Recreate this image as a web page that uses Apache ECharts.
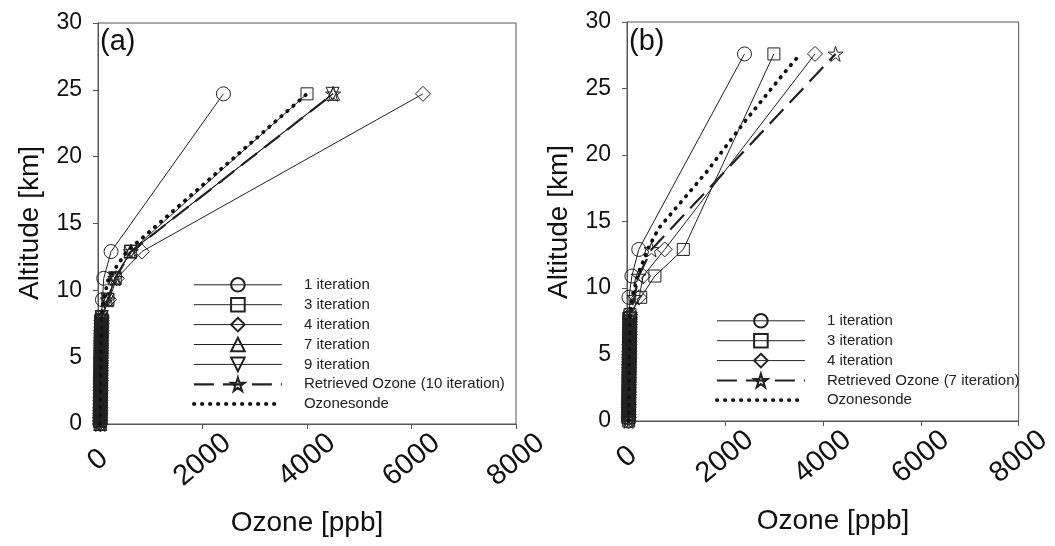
<!DOCTYPE html>
<html>
<head>
<meta charset="utf-8">
<script src="https://cdn.jsdelivr.net/npm/echarts@6/dist/echarts.min.js"></script>
<style>html,body{margin:0;padding:0;background:#fff;}#c{width:1055px;height:546px;}</style>
</head>
<body>
<div id="c"></div>
<script>
// ---------- Data ----------
// Lower-troposphere levels shared by the profiles [km]
const altLow = [0,0.25,0.5,0.75,1,1.25,1.5,1.75,2,2.25,2.5,2.75,3,3.25,3.5,3.75,4,4.25,4.5,4.75,5,5.25,5.5,5.75,6,6.25,6.5,6.75,7,7.25,7.5,7.75,8];

// Panel (a)
const altA = altLow.concat([9.3, 10.9, 12.9, 24.7]);
const iter1A = [38,39,39,40,41,41,42,43,44,44,45,46,47,47,48,49,50,51,51,52,53,54,55,55,56,57,58,59,60,61,62,63,64, 85,110,250,2400];
const iter3A = [42,42,43,44,44,45,46,46,47,48,49,49,50,51,52,52,53,54,55,56,57,57,58,59,60,61,62,63,64,65,66,68,70, 190,330,620,4000];
const iter4A = [44,44,45,46,46,47,48,48,49,50,51,51,52,53,54,55,56,56,57,58,59,60,61,62,63,64,65,66,67,68,70,71,73, 210,360,840,6220];
const iter7A = [43,43,44,45,45,46,47,47,48,49,50,50,51,52,53,54,55,55,56,57,58,59,60,61,62,63,64,65,66,67,68,69,71, 180,320,620,4500];
const iter9A = [43,44,44,45,46,46,47,48,48,49,50,51,51,52,53,54,55,56,56,57,58,59,60,61,62,63,64,65,66,67,68,70,71, 185,325,630,4490];
const retA   = [43,44,45,45,46,47,47,48,49,50,50,51,52,53,54,54,55,56,57,58,59,60,61,61,62,63,64,65,66,67,69,70,72, 185,330,630,4500];
const sondeAltA = altLow.concat([9.3, 10.9, 12.9, 24.7]);
const sondeA = [40,41,42,42,43,44,45,46,46,47,48,49,50,51,52,52,53,54,55,56,57,58,59,60,61,62,63,64,65,66,67,68,68, 110,200,550,4000];

// Panel (b)
const altB = altLow.concat([9.3, 10.9, 12.9, 27.6]);
const iter1B = [30,31,31,32,33,33,34,35,36,36,37,38,39,39,40,41,42,43,43,44,45,46,47,48,49,50,51,52,52,53,54,55,56, 40,100,240,2400];
const iter3B = [34,34,35,36,37,37,38,39,40,40,41,42,43,44,45,45,46,47,48,49,50,51,52,53,54,55,56,57,58,59,60,61,62, 280,570,1150,3000];
const iter4B = [33,33,34,35,36,36,37,38,39,39,40,41,42,43,44,44,45,46,47,48,49,50,51,52,53,54,55,56,57,58,59,60,61, 250,330,770,3840];
const retB   = [32,32,33,34,35,35,36,37,38,38,39,40,41,42,43,43,44,45,46,47,48,49,50,51,52,53,54,55,56,57,58,59,60, 150,240,500,4260];
const sondeAltB = altLow.concat([9.3, 10.9, 12.9, 14.5, 18.7, 22.4, 25.9, 27.6]);
const sondeB = [34,35,35,36,37,38,38,39,40,41,41,42,43,44,45,46,46,47,48,49,50,51,52,53,54,55,56,57,58,59,60,61,62, 100,220,420,650,1620,2380,3150,3540];

// Axis ticks
const xTicks = [0,2000,4000,6000,8000];
const yTicks = [0,5,10,15,20,25,30];

const legendA = ['1 iteration','3 iteration','4 iteration','7 iteration','9 iteration','Retrieved Ozone (10 iteration)','Ozonesonde'];
const legendB = ['1 iteration','3 iteration','4 iteration','Retrieved Ozone (7 iteration)','Ozonesonde'];

// ---------- Chart ----------
const FONT = '"Liberation Sans", Arial, sans-serif';
const INK = '#222';
const STAR = 'path://M50,0 L61.2,34.5 L97.6,34.5 L68.2,55.9 L79.4,90.5 L50,69.1 L20.6,90.5 L31.8,55.9 L2.4,34.5 L38.8,34.5 Z';
const TRI_DOWN = 'path://M0,0 L100,0 L50,87 Z';
const DASH = [20, 9];
const DOTS = [0.5, 7.5];

function pairs(xs, ys) { return xs.map((v, i) => [v, ys[i]]); }

function lineSeries(name, xs, ys, idx, symbol, size, lineType, width) {
  return {
    name: name, type: 'line', xAxisIndex: idx, yAxisIndex: idx,
    data: pairs(xs, ys),
    symbol: symbol, symbolSize: size, showSymbol: true,
    lineStyle: { color: INK, width: width || 1, type: lineType || 'solid' },
    itemStyle: { color: 'rgba(0,0,0,0)', borderColor: INK, borderWidth: 1 },
    emphasis: { disabled: true },
    z: 3
  };
}
function sondeSeries(xs, ys, idx) {
  return {
    name: 'Ozonesonde', type: 'line', xAxisIndex: idx, yAxisIndex: idx,
    data: pairs(xs, ys),
    symbol: 'circle', symbolSize: 0, showSymbol: false,
    lineStyle: { color: '#111', width: 3.8, type: DOTS, cap: 'round' },
    itemStyle: { color: 'rgba(0,0,0,0)', borderWidth: 0 },
    emphasis: { disabled: true },
    z: 4
  };
}

function xAxis(idx) {
  return {
    type: 'value', gridIndex: idx, min: 0, max: 8000, interval: 2000,
    axisLine: { show: true, lineStyle: { color: '#555', width: 1 } },
    axisTick: { show: true, inside: false, length: 5, lineStyle: { color: '#555' } },
    splitLine: { show: false },
    axisLabel: {
      rotate: 40, margin: 36, align: 'center', verticalAlign: 'middle',
      fontSize: 29, fontFamily: FONT, color: '#111',
      formatter: v => xTicks.indexOf(v) >= 0 ? String(v) : ''
    }
  };
}
function yAxis(idx) {
  return {
    type: 'value', gridIndex: idx, min: 0, max: 30, interval: 5,
    axisLine: { show: true, lineStyle: { color: '#555', width: 1 } },
    axisTick: { show: true, inside: false, length: 5, lineStyle: { color: '#555' } },
    splitLine: { show: false },
    axisLabel: {
      margin: 16, fontSize: 23, fontFamily: FONT, color: '#111',
      formatter: v => yTicks.indexOf(v) >= 0 ? String(v) : ''
    }
  };
}
function legendItem(name) {
  if (name === 'Ozonesonde') return { name: name, lineStyle: { width: 3.8, type: DOTS, cap: 'round' } };
  if (name.indexOf('Retrieved') === 0) return { name: name, lineStyle: { width: 2.2, type: DASH } };
  return { name: name, lineStyle: { width: 1 } };
}
function legend(names, left, top) {
  return {
    data: names.map(legendItem), orient: 'vertical', left: left, top: top, padding: 0,
    itemWidth: 88, itemHeight: 17, itemGap: 4.3,
    textStyle: { fontSize: 15, fontFamily: FONT, color: '#222', padding: [0, 0, 0, 17] },
    selectedMode: false
  };
}

const chart = echarts.init(document.getElementById('c'), null, { renderer: 'canvas' });
chart.setOption({
  animation: false,
  backgroundColor: '#fff',
  grid: [
    { left: 98, top: 23, width: 418, height: 401, show: true, borderColor: '#555', borderWidth: 1, backgroundColor: 'rgba(0,0,0,0)' },
    { left: 627, top: 22, width: 405, height: 399, show: true, borderColor: '#555', borderWidth: 1, backgroundColor: 'rgba(0,0,0,0)' }
  ],
  xAxis: [xAxis(0), xAxis(1)],
  yAxis: [yAxis(0), yAxis(1)],
  legend: [legend(legendA, 192, 277), legend(legendB, 715, 313)],
  graphic: [
    { type: 'text', x: 100, y: 27, style: { text: '(a)', fontSize: 29, fontFamily: FONT, fill: '#111', align: 'left', verticalAlign: 'top' } },
    { type: 'text', x: 629, y: 27, style: { text: '(b)', fontSize: 29, fontFamily: FONT, fill: '#111', align: 'left', verticalAlign: 'top' } },
    { type: 'text', x: 30, y: 223, rotation: Math.PI / 2, style: { text: 'Altitude [km]', fontSize: 28, fontFamily: FONT, fill: '#111', align: 'center', verticalAlign: 'middle' } },
    { type: 'text', x: 559, y: 222, rotation: Math.PI / 2, style: { text: 'Altitude [km]', fontSize: 28, fontFamily: FONT, fill: '#111', align: 'center', verticalAlign: 'middle' } },
    { type: 'text', x: 307, y: 523, style: { text: 'Ozone [ppb]', fontSize: 28, fontFamily: FONT, fill: '#111', align: 'center', verticalAlign: 'middle' } },
    { type: 'text', x: 833, y: 521, style: { text: 'Ozone [ppb]', fontSize: 28, fontFamily: FONT, fill: '#111', align: 'center', verticalAlign: 'middle' } }
  ],
  series: [
    lineSeries('1 iteration', iter1A, altA, 0, 'circle', 14),
    lineSeries('3 iteration', iter3A, altA, 0, 'rect', 12),
    lineSeries('4 iteration', iter4A, altA, 0, 'diamond', 15),
    lineSeries('7 iteration', iter7A, altA, 0, 'triangle', 13),
    lineSeries('9 iteration', iter9A, altA, 0, TRI_DOWN, 13),
    lineSeries('Retrieved Ozone (10 iteration)', retA, altA, 0, STAR, 15, DASH, 2.2),
    sondeSeries(sondeA, sondeAltA, 0),
    lineSeries('1 iteration', iter1B, altB, 1, 'circle', 14),
    lineSeries('3 iteration', iter3B, altB, 1, 'rect', 12),
    lineSeries('4 iteration', iter4B, altB, 1, 'diamond', 15),
    lineSeries('Retrieved Ozone (7 iteration)', retB, altB, 1, STAR, 15, DASH, 2.2),
    sondeSeries(sondeB, sondeAltB, 1)
  ]
});
</script>
</body>
</html>
